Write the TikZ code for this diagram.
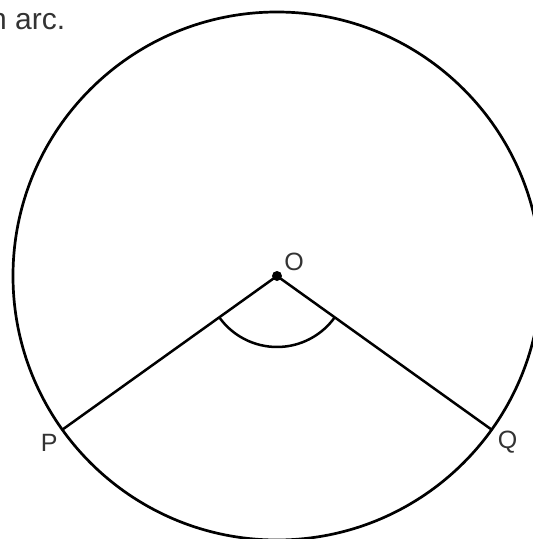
\documentclass[tikz,border=0pt]{standalone}
\usepackage{fontspec}
\setmainfont{Liberation Sans}
\usepackage{tikz}
\usetikzlibrary{calc}
\tikzset{
    rim/.style={line width=2.7pt, black},
    radius line/.style={line width=2.5pt, black},
    angle mark/.style={line width=2.5pt, black},
    lbl/.style={text=black!80, inner sep=0pt, font=\fontsize{25}{29}\selectfont},
    qtext/.style={text=black!80, inner sep=0pt, font=\fontsize{30}{34}\selectfont},
}

\begin{document}
\begin{tikzpicture}[x=1pt, y=1pt]
    \useasboundingbox (-277,-263) rectangle (256,276);
    \coordinate (O) at (0,0);
    \coordinate (P) at (215.6:264);
    \coordinate (Q) at (324.4:264);
    \node[qtext, anchor=base west] (note) at (-287,247) {n arc.};
    \draw[rim] (O) circle[radius=264];
    \draw[radius line] (P) -- (O) -- (Q);
    \draw[angle mark] ($(O)+(215.6:71)$) arc[start angle=215.6, end angle=324.4, radius=71];
    \fill (O) circle[radius=5];
    \node[lbl] (lO) at (17,14.3) {O};
    \node[lbl] (lP) at (-227.8,-166.5) {P};
    \node[lbl] (lQ) at (230.5,-166) {Q};
\end{tikzpicture}
\end{document}
